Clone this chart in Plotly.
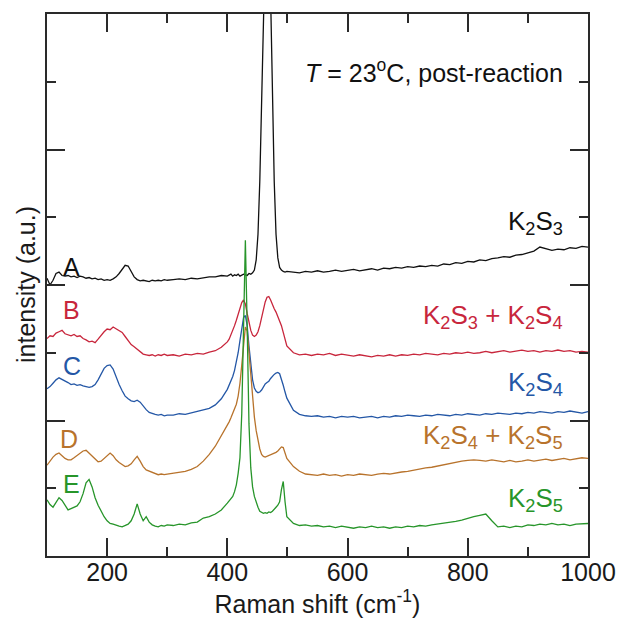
import plotly.graph_objects as go

# Raman shift sampling positions (cm^-1)
raman_shift = [
    100, 105, 110, 115, 120, 125, 130, 135, 140, 145,
    150, 155, 160, 165, 170, 175, 180, 185, 190, 195,
    200, 205, 210, 215, 220, 225, 230, 235, 240, 245,
    250, 255, 260, 265, 270, 275, 280, 285, 290, 295,
    300,
    310, 320, 330, 340, 350, 360, 370, 380, 390, 400,
    403, 406, 409, 412, 415, 418, 421, 424, 427, 430,
    433, 436, 439, 442, 445, 448, 451, 454, 457, 460,
    463, 466, 469, 472, 475, 478, 481, 484, 487, 490,
    493, 496, 499,
    510, 520, 530, 540, 550, 560, 570, 580, 590, 600,
    610, 620, 630, 640, 650, 660, 670, 680, 690, 700,
    710, 720, 730, 740, 750, 760, 770, 780, 790, 800,
    810, 820, 830, 840, 850, 860, 870, 880, 890, 900,
    910, 920, 930, 940, 950, 960, 970, 980, 990, 1000,
]

# Offset intensities (a.u.)
spec_A = [
    4.10, 4.00, 4.07, 4.17, 4.19, 4.14, 4.13, 4.14, 4.12, 4.13,
    4.11, 4.13, 4.12, 4.10, 4.11, 4.09, 4.10, 4.08, 4.09, 4.07,
    4.08, 4.07, 4.09, 4.12, 4.17, 4.24, 4.29, 4.28, 4.20, 4.12,
    4.08, 4.06, 4.07, 4.06, 4.05, 4.07, 4.06, 4.07, 4.06, 4.08,
    4.07,
    4.08, 4.09, 4.08, 4.10, 4.09, 4.11, 4.12, 4.12, 4.14, 4.13,
    4.14, 4.16, 4.13, 4.15, 4.14, 4.16, 4.13, 4.14, 4.16, 4.15,
    4.14, 4.17, 4.16, 4.18, 4.22, 4.37, 4.75, 5.53, 6.77, 8.31,
    9.62, 10.15, 9.62, 8.31, 6.77, 5.53, 4.75, 4.40, 4.26, 4.22,
    4.20, 4.19, 4.20,
    4.19, 4.18, 4.20, 4.19, 4.21, 4.19, 4.20, 4.22, 4.20, 4.21,
    4.23, 4.21, 4.22, 4.24, 4.22, 4.25, 4.24, 4.26, 4.25, 4.27,
    4.26, 4.28, 4.27, 4.29, 4.28, 4.31, 4.30, 4.33, 4.32, 4.35,
    4.34, 4.37, 4.36, 4.39, 4.40, 4.42, 4.41, 4.44, 4.45, 4.47,
    4.50, 4.56, 4.54, 4.51, 4.53, 4.52, 4.55, 4.54, 4.57, 4.56,
]

spec_B = [
    3.21, 3.25, 3.24, 3.29, 3.31, 3.33, 3.28, 3.26, 3.25, 3.27,
    3.24, 3.25, 3.21, 3.19, 3.16, 3.17, 3.15, 3.20, 3.26, 3.31,
    3.35, 3.34, 3.38, 3.35, 3.33, 3.30, 3.24, 3.18, 3.12, 3.09,
    3.05, 3.01, 2.98, 2.97, 2.96, 2.97, 2.95, 2.97, 2.96, 2.98,
    2.96,
    2.97, 2.95, 2.98, 2.97, 2.99, 2.98, 3.01, 3.03, 3.08, 3.16,
    3.20, 3.26, 3.33, 3.40, 3.48, 3.57, 3.66, 3.74, 3.78, 3.72,
    3.58, 3.44, 3.33, 3.26, 3.24, 3.26, 3.31, 3.40, 3.52, 3.65,
    3.75, 3.82, 3.83, 3.78, 3.70, 3.65, 3.60, 3.54, 3.48, 3.40,
    3.30, 3.19, 3.10,
    3.00, 2.97, 2.98, 2.96, 2.98, 2.97, 2.99, 2.96, 2.98, 2.97,
    2.95, 2.97, 2.96, 2.94, 2.96, 2.95, 2.97, 2.95, 2.97, 2.96,
    2.98, 2.97, 2.99, 2.98, 2.97, 2.99, 2.98, 3.00, 2.99, 3.01,
    2.99, 3.00, 3.02, 3.00, 3.01, 3.03, 3.01, 3.02, 3.04, 3.02,
    3.03, 3.01, 3.03, 3.02, 3.04, 3.02, 3.03, 3.01, 3.02, 3.01,
]

spec_C = [
    2.47, 2.50, 2.55, 2.60, 2.63, 2.61, 2.58, 2.56, 2.53, 2.54,
    2.52, 2.53, 2.51, 2.50, 2.49, 2.50, 2.53, 2.60, 2.69, 2.77,
    2.81, 2.82, 2.76, 2.64, 2.53, 2.44, 2.36, 2.32, 2.29, 2.28,
    2.30, 2.27, 2.21, 2.16, 2.12, 2.10, 2.09, 2.08, 2.09, 2.07,
    2.08,
    2.08, 2.10, 2.09, 2.11, 2.13, 2.15, 2.18, 2.23, 2.32, 2.46,
    2.52, 2.58, 2.65, 2.74, 2.85, 3.00, 3.18, 3.38, 3.52, 3.55,
    3.40, 3.10, 2.80, 2.60, 2.48, 2.43, 2.41, 2.42, 2.45, 2.50,
    2.54, 2.56, 2.58, 2.62, 2.66, 2.68, 2.70, 2.71, 2.69, 2.62,
    2.52, 2.42, 2.33,
    2.15, 2.09, 2.07, 2.06, 2.07, 2.05, 2.06, 2.04, 2.06, 2.05,
    2.06, 2.04, 2.05, 2.06, 2.04, 2.06, 2.05, 2.07, 2.06, 2.08,
    2.07, 2.06, 2.08, 2.07, 2.09, 2.08, 2.07, 2.09, 2.08, 2.10,
    2.09, 2.08, 2.10, 2.09, 2.11, 2.10, 2.09, 2.11, 2.10, 2.12,
    2.11, 2.13, 2.12, 2.11, 2.13, 2.12, 2.14, 2.12, 2.11, 2.13,
]

spec_D = [
    1.34, 1.40, 1.46, 1.50, 1.52, 1.48, 1.44, 1.42, 1.42, 1.45,
    1.48, 1.52, 1.55, 1.56, 1.52, 1.47, 1.43, 1.39, 1.40, 1.44,
    1.49, 1.52, 1.48, 1.42, 1.38, 1.35, 1.32, 1.33, 1.36, 1.42,
    1.47, 1.40, 1.32, 1.27, 1.25, 1.23, 1.22, 1.20, 1.21, 1.20,
    1.21,
    1.22, 1.23, 1.25, 1.28, 1.32, 1.40, 1.50, 1.62, 1.78, 1.92,
    1.98, 2.04, 2.10, 2.16, 2.24, 2.36, 2.55, 2.82, 3.15, 3.38,
    3.32, 3.00, 2.62, 2.32, 2.05, 1.85, 1.70, 1.58, 1.50, 1.47,
    1.46, 1.47, 1.48, 1.49, 1.50, 1.52, 1.53, 1.55, 1.58, 1.61,
    1.60, 1.52, 1.44,
    1.32, 1.25, 1.21, 1.20, 1.19, 1.21, 1.19, 1.20, 1.18, 1.20,
    1.19, 1.21, 1.20, 1.19, 1.21, 1.22, 1.21, 1.23, 1.24, 1.25,
    1.27, 1.28, 1.30, 1.31, 1.33, 1.35, 1.36, 1.38, 1.40, 1.41,
    1.42, 1.41, 1.40, 1.42, 1.40, 1.39, 1.41, 1.39, 1.40, 1.42,
    1.40, 1.41, 1.43, 1.41, 1.42, 1.44, 1.42, 1.43, 1.45, 1.44,
]

spec_E = [
    0.83, 0.76, 0.72, 0.80, 0.86, 0.82, 0.74, 0.68, 0.70, 0.72,
    0.74, 0.80, 0.92, 1.08, 1.13, 1.02, 0.86, 0.75, 0.66, 0.58,
    0.52, 0.48, 0.47, 0.45, 0.44, 0.43, 0.45, 0.47, 0.52, 0.62,
    0.77, 0.62, 0.52, 0.58, 0.50, 0.46, 0.44, 0.43, 0.45, 0.44,
    0.46,
    0.45, 0.47, 0.46, 0.49, 0.50, 0.56, 0.58, 0.62, 0.68, 0.78,
    0.82, 0.86, 0.88, 0.95, 1.05, 1.22, 1.45, 2.10, 3.50, 4.66,
    3.40, 1.95, 1.30, 1.02, 0.88, 0.78, 0.72, 0.66, 0.64, 0.63,
    0.64, 0.63, 0.65, 0.64, 0.66, 0.70, 0.72, 0.75, 0.80, 0.98,
    1.10, 0.80, 0.58,
    0.48, 0.45, 0.46, 0.44, 0.45, 0.43, 0.44, 0.42, 0.44, 0.43,
    0.41, 0.43, 0.42, 0.44, 0.42, 0.43, 0.41, 0.43, 0.42, 0.44,
    0.43, 0.45, 0.44, 0.46, 0.47, 0.49, 0.50, 0.51, 0.53, 0.56,
    0.58, 0.60, 0.62, 0.52, 0.43, 0.44, 0.42, 0.44, 0.43, 0.46,
    0.45, 0.47, 0.46, 0.48, 0.46, 0.47, 0.45, 0.47, 0.48, 0.48,
]

spectra = [spec_A, spec_B, spec_C, spec_D, spec_E]
letters = ["A", "B", "C", "D", "E"]
phases = [
    "K<sub>2</sub>S<sub>3</sub>",
    "K<sub>2</sub>S<sub>3</sub> + K<sub>2</sub>S<sub>4</sub>",
    "K<sub>2</sub>S<sub>4</sub>",
    "K<sub>2</sub>S<sub>4</sub> + K<sub>2</sub>S<sub>5</sub>",
    "K<sub>2</sub>S<sub>5</sub>",
]
colors = ["#111111", "#c8263c", "#2457a6", "#b8732c", "#27952a"]

for s in spectra:
    assert len(s) == len(raman_shift), len(s)

# label anchor positions (data coords)
letter_pos = [(141, 4.27), (141, 3.63), (141, 2.80), (137, 1.73), (140, 1.06)]
phase_pos = [(962, 4.92), (962, 3.54), (962, 2.55), (962, 1.77), (962, 0.83)]

FONT = "Liberation Sans, Arial, Helvetica, sans-serif"
AX = "#2a2a2a"
FS = 25
FS_PHASE = 26

fig = go.Figure()
for s, c in zip(spectra, colors):
    fig.add_trace(go.Scatter(x=raman_shift, y=s, mode="lines",
                             line=dict(color=c, width=1.3),
                             showlegend=False, hoverinfo="skip"))

annotations = []
for (lx, ly), t, c in zip(letter_pos, letters, colors):
    annotations.append(dict(x=lx, y=ly, xref="x", yref="y", text=t,
                            showarrow=False, xanchor="center", yanchor="middle",
                            font=dict(family=FONT, size=FS, color=c)))
for (px, py), t, c in zip(phase_pos, phases, colors):
    annotations.append(dict(x=px, y=py, xref="x", yref="y", text=t,
                            showarrow=False, xanchor="right", yanchor="middle",
                            font=dict(family=FONT, size=FS_PHASE, color=c)))
annotations.append(dict(x=962, y=7.16, xref="x", yref="y",
                        text="<i>T</i> = 23<sup>o</sup>C, post-reaction",
                        showarrow=False, xanchor="right", yanchor="middle",
                        font=dict(family=FONT, size=FS, color="#111111")))
# y-axis title
annotations.append(dict(x=0, y=0.5, xref="paper", yref="paper",
                        text="intensity (a.u.)", textangle=-90,
                        showarrow=False, xanchor="center", yanchor="middle",
                        xshift=-21,
                        font=dict(family=FONT, size=FS, color="#1a1a1a")))

axis_common = dict(
    ticks="inside", ticklen=18, tickwidth=1.6, tickcolor=AX,
    showline=True, linewidth=2, linecolor=AX, mirror="allticks",
    showgrid=False, zeroline=False, automargin=False,
)

fig.update_layout(
    width=619, height=624,
    margin=dict(l=47, r=31, t=14, b=68),
    paper_bgcolor="white", plot_bgcolor="white",
    font=dict(family=FONT, size=FS, color="#1a1a1a"),
    annotations=annotations,
    xaxis=dict(range=[100, 1000], tick0=0, dtick=200,
               minor=dict(dtick=100, tick0=0, ticks="inside", ticklen=9,
                          tickwidth=1.6, tickcolor=AX, showgrid=False),
               tickfont=dict(family=FONT, size=FS, color="#1a1a1a"),
               ticklabelstandoff=-7,
               title=dict(text="Raman shift (cm<sup>-1</sup>)", standoff=0,
                          font=dict(family=FONT, size=FS, color="#1a1a1a")),
               **axis_common),
    yaxis=dict(range=[0, 8], tick0=0, dtick=2, showticklabels=False,
               minor=dict(dtick=1, tick0=0, ticks="inside", ticklen=9,
                          tickwidth=1.6, tickcolor=AX, showgrid=False),
               **axis_common),
)

fig.write_html("out.html")
